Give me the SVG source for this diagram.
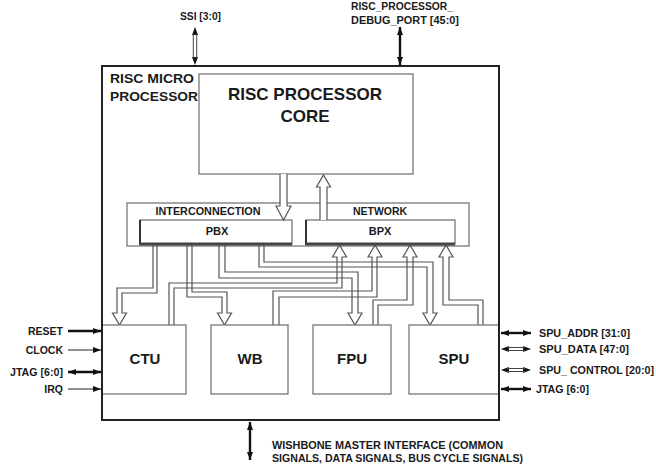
<svg xmlns="http://www.w3.org/2000/svg" width="656" height="466" viewBox="0 0 656 466">
<style>
text{font-family:"Liberation Sans",Arial,Helvetica,sans-serif;font-weight:bold;fill:#1a1a1a}
.sig{font-size:10.5px}
.blk{font-size:15px}
.box{fill:#fff;stroke:#777;stroke-width:1.3}
.bus{fill:none;stroke:#555;stroke-width:1.2;stroke-linejoin:miter}
.hol{fill:#fff;stroke:#555;stroke-width:1.2}
.thk{stroke:#111;stroke-width:2.4}
.thn{stroke:#222;stroke-width:1}
.dl{stroke:#444;stroke-width:1}
</style>
<defs>
<marker id="ah" viewBox="0 0 8 6" refX="8" refY="3" markerWidth="8" markerHeight="6" orient="auto-start-reverse" markerUnits="userSpaceOnUse"><path d="M0,0 L8,3 L0,6 z" fill="#111"/></marker>
</defs>
<rect width="656" height="466" fill="#fff"/>

<g id="risc-micro-processor">
<rect x="102" y="66" width="397" height="354" fill="#fff" stroke="#222" stroke-width="2"/>
<text x="110" y="83" font-size="12.5" textLength="84" lengthAdjust="spacingAndGlyphs">RISC MICRO</text>
<text x="110" y="101" font-size="12.5" textLength="88" lengthAdjust="spacingAndGlyphs">PROCESSOR</text>
</g>

<g id="core">
<rect x="199" y="74" width="214" height="100" class="box" stroke-width="1.5"/>
<text x="305" y="100" font-size="17" text-anchor="middle">RISC PROCESSOR</text>
<text x="305" y="122" font-size="17" text-anchor="middle">CORE</text>
</g>

<g id="interconnection-network">
<rect x="127" y="203" width="342" height="43" class="box"/>
<text x="208" y="215" font-size="11" text-anchor="middle" textLength="105" lengthAdjust="spacingAndGlyphs">INTERCONNECTION</text>
<text x="380" y="215" font-size="11" text-anchor="middle" textLength="54" lengthAdjust="spacingAndGlyphs">NETWORK</text>
</g>

<g id="pbx">
<rect x="140" y="220" width="152" height="24" class="box"/>
<line x1="140" y1="220" x2="140" y2="245" stroke="#333" stroke-width="2"/>
<line x1="140" y1="244" x2="292" y2="244" stroke="#444" stroke-width="3"/>
<text x="217" y="235" font-size="11" text-anchor="middle">PBX</text>
</g>

<g id="bpx">
<rect x="306" y="220" width="149" height="24" class="box"/>
<line x1="306" y1="220" x2="306" y2="245" stroke="#333" stroke-width="2"/>
<line x1="306" y1="244" x2="455" y2="244" stroke="#444" stroke-width="3"/>
<text x="380" y="235" font-size="11" text-anchor="middle">BPX</text>
</g>

<g id="connectors">
<path class="bus" d="M153,245 V288 H117 V313 H112.5 L119.5,325 L126.5,313 H122 V293 H157 V245"/>
<path class="bus" d="M192,245 V292 H227 V313 H231.5 L224.5,325 L217.5,313 H222 V297 H187 V245"/>
<path class="bus" d="M225,245 V272 H358 V313 H362 L355,325 L348,313 H352 V278 H219 V245"/>
<path class="bus" d="M264,245 V262 H433 V313 H437 L430,325 L423,313 H427 V267 H259 V245"/>
<path class="bus" d="M169,325 V283 H337 V257 H332.5 L339.5,245 L346.5,257 H342 V288 H174 V325"/>
<path class="bus" d="M273,325 V291 H372 V257 H368 L375,245 L382,257 H377 V297 H279 V325"/>
<path class="bus" d="M373,325 V300 H407 V257 H403 L410,245 L417,257 H413 V305 H378 V325"/>
<path class="bus" d="M483,325 V300 H449 V257 H453 L446,245 L439,257 H443 V305 H478 V325"/>
<path class="hol" d="M280,174 V206 H276 L283.5,220 L291,206 H287 V174"/>
<path class="hol" d="M320,220 V187 H316.5 L323.5,175 L330.5,187 H327 V220"/>
<line x1="195" y1="27" x2="195" y2="65" stroke="none" marker-start="url(#ah)" marker-end="url(#ah)"/>
<line x1="193.3" y1="33" x2="193.3" y2="59" class="dl"/>
<line x1="196.7" y1="33" x2="196.7" y2="59" class="dl"/>
<line x1="400" y1="27" x2="400" y2="65" class="thk" marker-start="url(#ah)" marker-end="url(#ah)"/>
<line x1="68" y1="331" x2="101" y2="331" class="thk" marker-end="url(#ah)"/>
<line x1="68" y1="350" x2="101" y2="350" class="thn" marker-end="url(#ah)"/>
<line x1="68" y1="372" x2="101" y2="372" class="thk" marker-start="url(#ah)" marker-end="url(#ah)"/>
<line x1="68" y1="389" x2="101" y2="389" class="thn" marker-end="url(#ah)"/>
<line x1="501" y1="333" x2="531" y2="333" class="thk" marker-start="url(#ah)" marker-end="url(#ah)"/>
<line x1="501" y1="349" x2="531" y2="349" stroke="none" marker-start="url(#ah)" marker-end="url(#ah)"/>
<line x1="507" y1="347.5" x2="525" y2="347.5" class="dl"/>
<line x1="507" y1="350.5" x2="525" y2="350.5" class="dl"/>
<line x1="501" y1="370" x2="531" y2="370" stroke="none" marker-start="url(#ah)" marker-end="url(#ah)"/>
<line x1="507" y1="368.5" x2="525" y2="368.5" class="dl"/>
<line x1="507" y1="371.5" x2="525" y2="371.5" class="dl"/>
<line x1="501" y1="389" x2="531" y2="389" class="thk" marker-start="url(#ah)" marker-end="url(#ah)"/>
<line x1="250" y1="422" x2="250" y2="460" class="thk" marker-start="url(#ah)" marker-end="url(#ah)"/>
</g>

<g id="ctu">
<rect x="102" y="325" width="84" height="69" class="box"/>
<text x="145" y="364" class="blk" text-anchor="middle">CTU</text>
</g>
<g id="wb">
<rect x="211" y="325" width="77" height="69" class="box"/>
<text x="250" y="364" class="blk" text-anchor="middle">WB</text>
</g>
<g id="fpu">
<rect x="313" y="325" width="78" height="69" class="box"/>
<text x="352" y="364" class="blk" text-anchor="middle">FPU</text>
</g>
<g id="spu">
<rect x="409" y="325" width="90" height="69" class="box"/>
<text x="454" y="364" class="blk" text-anchor="middle">SPU</text>
</g>
<line x1="102" y1="66" x2="102" y2="420" stroke="#222" stroke-width="2"/>
<line x1="499" y1="66" x2="499" y2="420" stroke="#222" stroke-width="2"/>

<g id="labels">
<text x="180" y="20" class="sig" textLength="41" lengthAdjust="spacingAndGlyphs">SSI [3:0]</text>
<text x="351" y="10" class="sig" textLength="102" lengthAdjust="spacingAndGlyphs">RISC_PROCESSOR_</text>
<text x="351" y="24" class="sig" textLength="108" lengthAdjust="spacingAndGlyphs">DEBUG_PORT [45:0]</text>
<text x="63" y="335" class="sig" text-anchor="end">RESET</text>
<text x="63" y="354" class="sig" text-anchor="end">CLOCK</text>
<text x="63" y="376" class="sig" text-anchor="end" textLength="53" lengthAdjust="spacingAndGlyphs">JTAG [6:0]</text>
<text x="63" y="393" class="sig" text-anchor="end">IRQ</text>
<text x="539" y="337" class="sig" textLength="91" lengthAdjust="spacingAndGlyphs">SPU_ADDR [31:0]</text>
<text x="539" y="353" class="sig" textLength="90" lengthAdjust="spacingAndGlyphs">SPU_DATA [47:0]</text>
<text x="539" y="374" class="sig" textLength="115" lengthAdjust="spacingAndGlyphs">SPU_ CONTROL [20:0]</text>
<text x="536" y="393" class="sig" textLength="53" lengthAdjust="spacingAndGlyphs">JTAG [6:0]</text>
<text x="272" y="449" class="sig" textLength="231" lengthAdjust="spacingAndGlyphs">WISHBONE MASTER INTERFACE (COMMON</text>
<text x="272" y="462" class="sig" textLength="251" lengthAdjust="spacingAndGlyphs">SIGNALS, DATA SIGNALS, BUS CYCLE SIGNALS)</text>
</g>
</svg>
